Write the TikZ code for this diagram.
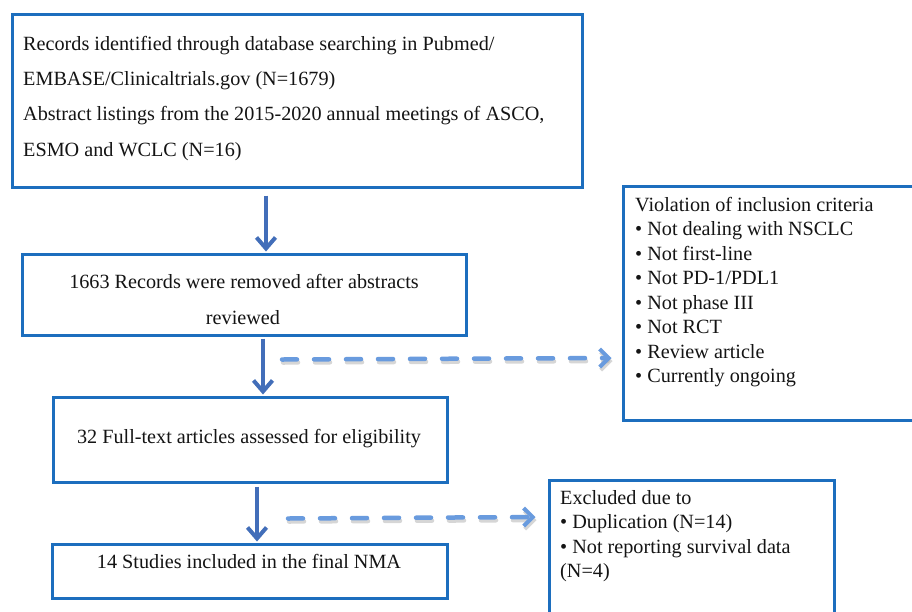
\documentclass[tikz,border=0pt]{standalone}
\usepackage{fontspec}
\setmainfont{Liberation Serif}
\usetikzlibrary{arrows.meta}
\definecolor{boxblue}{RGB}{28,110,190}
\definecolor{arrblue}{RGB}{66,110,185}
\definecolor{dashblue}{RGB}{105,155,222}
\begin{document}
\begin{tikzpicture}[x=1pt,y=-1pt,
  boxnode/.style={draw=boxblue,line width=3pt,rectangle,inner sep=0pt},
  txt/.style={inner sep=0pt,font=\fontsize{20.2}{24}\selectfont,text=black!92},
  arr/.style={draw=arrblue,line width=4pt,-{Straight Barb[length=11pt,width=19pt,line width=4pt]}},
  darr/.style={draw=dashblue,line width=4.5pt,line cap=round,dash pattern=on 15pt off 17pt,-{Straight Barb[length=9pt,width=18pt,line width=4pt]}},
  dshadow/.style={draw=black!35,opacity=0.45,line width=4.5pt,line cap=round,dash pattern=on 15pt off 17pt,-{Straight Barb[length=9pt,width=18pt,line width=4pt]}}
]
\useasboundingbox (0,0) rectangle (912,611);
\clip (0,0) rectangle (912,611);
\fill[white] (0,0) rectangle (912,611);

% boxes
\node[boxnode,minimum width=570pt,minimum height=173pt] (box1) at (297,100.5) {};
\node[boxnode,minimum width=444pt,minimum height=81pt] (box2) at (244,294.5) {};
\node[boxnode,minimum width=394pt,minimum height=85pt] (box3) at (250,439.5) {};
\node[boxnode,minimum width=395pt,minimum height=54pt] (box4) at (249.5,571) {};
\node[boxnode,minimum width=302pt,minimum height=234pt] (right1) at (774,303) {};
\node[boxnode,minimum width=285pt,minimum height=145pt] (right2) at (691.5,552.5) {};

% box1 text
\node[txt,anchor=base west] (t1a) at (23,50) {Records identified through database searching in Pubmed/};
\node[txt,anchor=base west] (t1b) at (23,85) {EMBASE/Clinicaltrials.gov (N=1679)};
\node[txt,anchor=base west] (t1c) at (23,120) {Abstract listings from the 2015-2020 annual meetings of ASCO,};
\node[txt,anchor=base west] (t1d) at (23,156) {ESMO and WCLC (N=16)};

% box2 text
\node[txt,anchor=base] (t2a) at (244,288) {1663 Records were removed after abstracts};
\node[txt,anchor=base] (t2b) at (243,324) {reviewed};

% box3, box4 text
\node[txt,anchor=base] (t3) at (249,443) {32 Full-text articles assessed for eligibility};
\node[txt,anchor=base] (t4) at (249,568) {14 Studies included in the final NMA};

% right1 text
\node[txt,anchor=base west] (r1a) at (635,211) {Violation of inclusion criteria};
\node[txt,anchor=base west] (r1b) at (635,235.5) {• Not dealing with NSCLC};
\node[txt,anchor=base west] (r1c) at (635,260) {• Not first-line};
\node[txt,anchor=base west] (r1d) at (635,284.5) {• Not PD-1/PDL1};
\node[txt,anchor=base west] (r1e) at (635,309) {• Not phase III};
\node[txt,anchor=base west] (r1f) at (635,333.5) {• Not RCT};
\node[txt,anchor=base west] (r1g) at (635,358) {• Review article};
\node[txt,anchor=base west] (r1h) at (635,382.5) {• Currently ongoing};

% right2 text
\node[txt,anchor=base west] (r2a) at (560,504) {Excluded due to};
\node[txt,anchor=base west] (r2b) at (560,528.5) {• Duplication (N=14)};
\node[txt,anchor=base west] (r2c) at (560,553) {• Not reporting survival data};
\node[txt,anchor=base west] (r2d) at (560,577) {(N=4)};

% solid arrows
\draw[arr] ([xshift=-31pt,yshift=-7pt]box1.south) -- ([xshift=22pt,yshift=1pt]box2.north);
\draw[arr] ([xshift=19pt,yshift=-2pt]box2.south) -- ([xshift=13pt,yshift=1pt]box3.north);
\draw[arr] ([xshift=7pt,yshift=-3pt]box3.south) -- ([xshift=7.5pt,yshift=1pt]box4.north);

% dashed arrows with shadow
\draw[dshadow] ([xshift=39pt,yshift=-26pt]box2.south) -- ([xshift=-9pt,yshift=-58pt]right1.west);
\draw[darr] ([xshift=38pt,yshift=-23pt]box2.south) -- ([xshift=-10pt,yshift=-55pt]right1.west);
\draw[dshadow] ([xshift=39pt,yshift=-38pt]box3.south) -- ([xshift=-11pt,yshift=32.5pt]right2.west);
\draw[darr] ([xshift=38pt,yshift=-35pt]box3.south) -- ([xshift=-12pt,yshift=35.5pt]right2.west);
\end{tikzpicture}
\end{document}
